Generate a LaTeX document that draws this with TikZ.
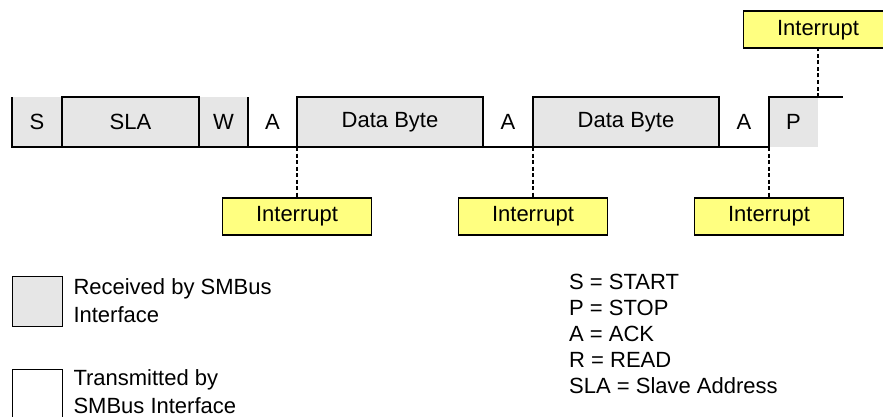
\documentclass[tikz,border=0pt]{standalone}
\usepackage{fontspec}
\setmainfont{Liberation Sans}
\usetikzlibrary{positioning}
\definecolor{RxGris}{RGB}{230,230,230}
\definecolor{IntAmarillo}{RGB}{255,255,128}
\tikzset{
  rxfield/.style={fill=RxGris, minimum width=#1, minimum height=50pt,
    inner sep=0pt, outer sep=0pt},
  rxfield/.default=50pt,
  txfield/.style={minimum width=#1, minimum height=50pt,
    inner sep=0pt, outer sep=0pt},
  txfield/.default=50pt,
  sigline/.style={line width=1.5pt, line join=miter},
  intbox/.style={draw, line width=1.5pt, fill=IntAmarillo,
    minimum width=149pt, minimum height=37pt, inner sep=0pt},
  intline/.style={line width=1.5pt, dash pattern=on 4pt off 2.5pt},
  legbox/.style={draw, line width=1.5pt, minimum width=50pt, minimum height=50pt,
    inner sep=0pt, outer sep=0pt},
  legtext/.style={align=left, inner sep=0pt},
}
\begin{document}
\begin{tikzpicture}[x=1pt, y=1pt, font=\fontsize{22}{28}\selectfont]
  \useasboundingbox (0,0) rectangle (883,416);
  \clip (0,0) rectangle (883,416);
  % ---- trama de campos ----
  \node[rxfield=50pt, anchor=west] (s) at (12,294) {S};
  \node[rxfield=137pt, right=0pt of s] (sla) {SLA};
  \node[rxfield=49pt, right=0pt of sla] (w) {W};
  \node[txfield=49pt, right=0pt of w] (ack1) {A};
  \node[rxfield=186pt, right=0pt of ack1] (data1) {Data Byte};
  \node[txfield=50pt, right=0pt of data1] (ack2) {A};
  \node[rxfield=186pt, right=0pt of ack2] (data2) {Data Byte};
  \node[txfield=50pt, right=0pt of data2] (ack3) {A};
  \node[rxfield=49pt, right=0pt of ack3] (stop) {P};
  \coordinate[right=25pt of stop.north east] (tail);
  \draw[sigline] (s.north west) -- (s.south west) -- (ack3.south east)
    -- (ack3.north east) -- (tail);
  \draw[sigline] (sla.south west) rectangle (sla.north east);
  \draw[sigline] (w.north east) -- (w.south east);
  \draw[sigline] (data1.south west) |- (data1.north east) -- (data1.south east);
  \draw[sigline] (data2.south west) |- (data2.north east) -- (data2.south east);
  % ---- interrupciones ----
  \node[intbox, below=50pt of ack1.south east] (int1) {Interrupt};
  \node[intbox, below=50pt of ack2.south east] (int2) {Interrupt};
  \node[intbox, below=50pt of ack3.south east] (int3) {Interrupt};
  \node[intbox, above=48pt of stop.north east] (int4) {Interrupt};
  \draw[intline] (ack1.south east) -- (int1.north);
  \draw[intline] (ack2.south east) -- (int2.north);
  \draw[intline] (ack3.south east) -- (int3.north);
  \draw[intline] (stop.north east) -- (int4.south);
  % ---- leyenda ----
  \node[legbox, fill=RxGris, anchor=north west] (legrx) at (12.3,139.3) {};
  \node[legtext, right=11pt of legrx, yshift=1.5pt] (legrxtext) {Received by SMBus\\Interface};
  \node[legbox, anchor=north west] (legtx) at (12.3,46.7) {};
  \node[legtext, right=11pt of legtx, yshift=3pt] (legtxtext) {Transmitted by\\SMBus Interface};
  \node[legtext, anchor=west, font=\fontsize{22}{26}\selectfont] (abbrev) at (569,82)
    {S = START\\P = STOP\\A = ACK\\R = READ\\SLA = Slave Address};
\end{tikzpicture}
\end{document}
